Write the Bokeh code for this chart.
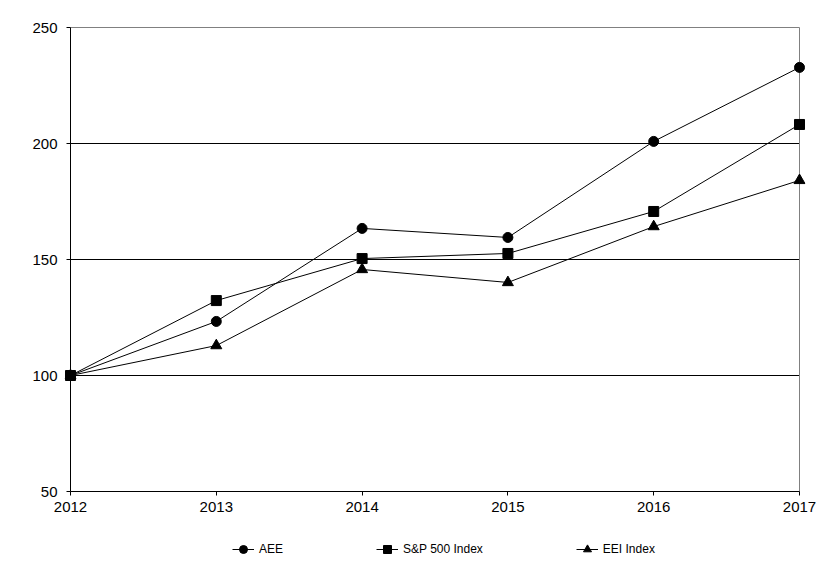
from bokeh.plotting import figure
from bokeh.layouts import column
from bokeh.models import FixedTicker, Legend, LegendItem, ColumnDataSource, Range1d
from bokeh.embed import file_html
from bokeh.resources import INLINE

years = [2012, 2013, 2014, 2015, 2016, 2017]
aee = [100, 123.3, 163.4, 159.5, 200.9, 232.8]
sp500 = [100, 132.3, 150.4, 152.6, 170.7, 208.2]
eei = [100, 112.9, 145.7, 140.1, 164.2, 184.1]
y_ticks = [50, 100, 150, 200, 250]
grid_ticks = [100, 150, 200]

FONT = "Liberation Sans"

# layout (pixels)
W = 830
H_MAIN = 530
H_LEG = 32
PX_PER_YEAR = 729 / 5.0
PX_PER_UNIT = 464 / 200.0
XPAD = 6
YPAD = 2
x0, x1 = years[0], years[-1]
y0, y1 = y_ticks[0], y_ticks[-1]

p = figure(width=W, height=H_MAIN, output_backend="svg", toolbar_location=None,
           x_range=Range1d(x0 - XPAD / PX_PER_YEAR, x1 + XPAD / PX_PER_YEAR),
           y_range=Range1d(y0 - YPAD / PX_PER_UNIT, y1 + YPAD / PX_PER_UNIT),
           min_border_left=70 - XPAD, min_border_right=W - (799 + XPAD),
           min_border_top=27 - YPAD, min_border_bottom=H_MAIN - (491 + YPAD))
p.background_fill_color = "white"
p.border_fill_color = "white"
p.outline_line_color = None
p.xgrid.visible = False
p.ygrid.visible = False

# grid and frame lines
p.segment(x0=[x0] * len(grid_ticks), x1=[x1] * len(grid_ticks), y0=grid_ticks, y1=grid_ticks,
          line_color="black", line_width=1)
p.segment(x0=[x0, x1], x1=[x1, x1], y0=[y1, y0], y1=[y1, y1], line_color="#808080", line_width=1)
p.segment(x0=[x0, x0], x1=[x0, x1], y0=[y0, y0], y1=[y1, y0], line_color="black", line_width=1)

p.xaxis.ticker = FixedTicker(ticks=years)
p.yaxis.ticker = FixedTicker(ticks=y_ticks)
for ax in (p.xaxis, p.yaxis):
    ax.axis_line_color = None
    ax.major_tick_line_color = "black"
    ax.minor_tick_line_color = None
    ax.major_label_text_font = FONT
    ax.major_label_text_font_size = "15px"
    ax.major_label_text_color = "black"
p.xaxis.major_tick_in = YPAD
p.xaxis.major_tick_out = 4 - YPAD
p.xaxis.major_label_standoff = 6
p.yaxis.major_tick_in = XPAD
p.yaxis.major_tick_out = 4 - XPAD
p.yaxis.major_label_standoff = 7

series = [(aee, "circle", 10, "AEE"), (sp500, "square", 10, "S&P 500 Index"), (eei, "triangle", 11, "EEI Index")]
for vals, marker, sz, label in series:
    src = ColumnDataSource(dict(x=years, y=vals))
    p.line("x", "y", source=src, line_color="black", line_width=1)
    p.scatter("x", "y", source=src, marker=marker, size=sz, fill_color="black", line_color="black")

# legend strip below the chart
q = figure(width=W, height=H_LEG, output_backend="svg", toolbar_location=None,
           x_range=Range1d(0, 1), y_range=Range1d(0, 1),
           x_axis_location=None, y_axis_location=None,
           min_border_left=0, min_border_right=0, min_border_top=0, min_border_bottom=0)
q.outline_line_color = None
q.xgrid.visible = False
q.ygrid.visible = False
q.background_fill_color = "white"
q.border_fill_color = "white"
items = []
for vals, marker, sz, label in series:
    ln = q.line(x=[-5, -4], y=[-5, -4], line_color="black", line_width=1)
    mk = q.scatter(x=[-5], y=[-5], marker=marker, size=7 if marker != "triangle" else 8,
                   fill_color="black", line_color="black")
    items.append(LegendItem(label=label, renderers=[ln, mk]))
lg = Legend(items=items, location=(168, 3), orientation="horizontal",
            border_line_color=None, background_fill_alpha=0,
            padding=0, margin=0, spacing=93, glyph_width=22, glyph_height=20,
            label_standoff=5, label_text_font=FONT, label_text_font_size="12px",
            label_text_color="black")
q.add_layout(lg, "center")

layout = column(p, q, spacing=0)
open("out.html", "w").write(file_html(layout, INLINE))
